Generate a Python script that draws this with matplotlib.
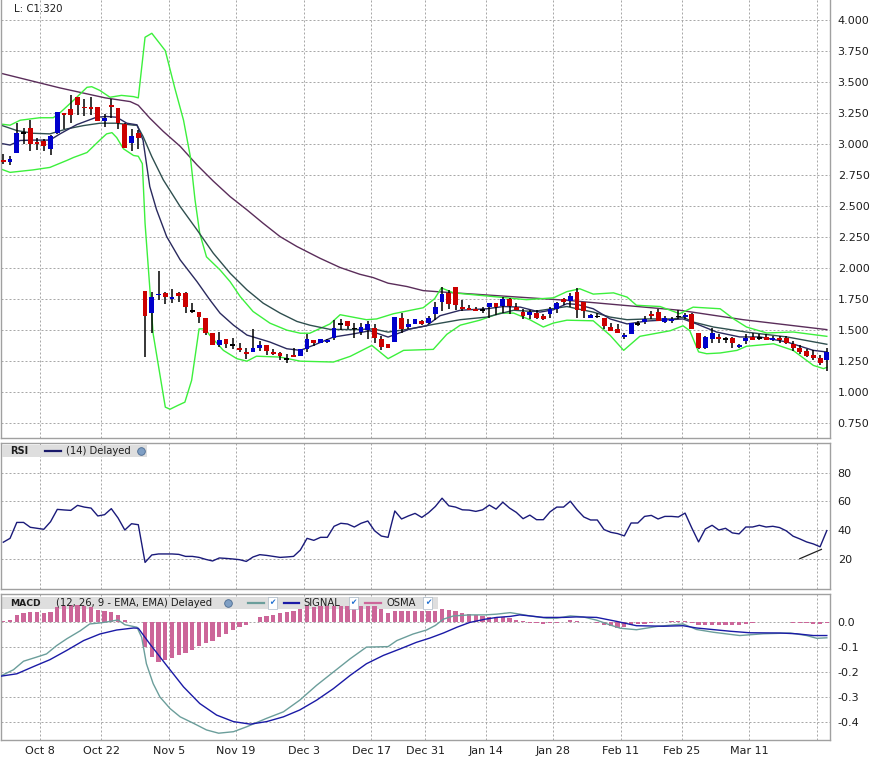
import matplotlib
matplotlib.use("Agg")
import matplotlib.pyplot as plt
from matplotlib.patches import Rectangle
from matplotlib.ticker import FixedLocator, FormatStrFormatter

plt.rcParams['axes.unicode_minus'] = False
plt.rcParams['font.family'] = ['DejaVu Sans']

# ---------------- data ----------------
opens = [2.87, 2.85, 2.93, 3.09, 3.13, 3.01, 3.02, 2.96, 3.09, 3.25,
         3.28, 3.375, 3.30, 3.295, 3.30, 3.18, 3.31, 3.29, 3.16, 3.01,
         3.09, 1.812, 1.637, 1.782, 1.80, 1.753, 1.80, 1.80, 1.652, 1.648,
         1.597, 1.478, 1.384, 1.43, 1.382, 1.357, 1.325, 1.320, 1.355, 1.382,
         1.325, 1.314, 1.27, 1.298, 1.288, 1.352, 1.42, 1.395, 1.406, 1.435,
         1.548, 1.57, 1.513, 1.487, 1.503, 1.516, 1.427, 1.39, 1.403, 1.60,
         1.524, 1.55, 1.575, 1.556, 1.632, 1.723, 1.798, 1.847, 1.685, 1.677,
         1.67, 1.664, 1.683, 1.718, 1.696, 1.75, 1.683, 1.645, 1.618, 1.637,
         1.61, 1.632, 1.67, 1.75, 1.731, 1.804, 1.723, 1.60, 1.61, 1.597,
         1.524, 1.51, 1.446, 1.468, 1.55, 1.564, 1.632, 1.645, 1.562, 1.575,
         1.61, 1.602, 1.632, 1.48, 1.355, 1.428, 1.443, 1.43, 1.433, 1.368,
         1.41, 1.443, 1.438, 1.443, 1.422, 1.433, 1.433, 1.39, 1.357, 1.328,
         1.30, 1.274, 1.26]
highs = [2.92, 2.90, 3.17, 3.13, 3.19, 3.05, 3.04, 3.07, 3.26, 3.25,
         3.39, 3.375, 3.36, 3.375, 3.30, 3.24, 3.36, 3.29, 3.165, 3.12,
         3.11, 1.812, 1.806, 1.978, 1.806, 1.83, 1.806, 1.806, 1.718, 1.648,
         1.597, 1.478, 1.484, 1.43, 1.436, 1.395, 1.355, 1.51, 1.41, 1.382,
         1.345, 1.327, 1.306, 1.36, 1.352, 1.468, 1.42, 1.427, 1.43, 1.583,
         1.59, 1.57, 1.556, 1.556, 1.57, 1.55, 1.454, 1.39, 1.607, 1.637,
         1.59, 1.59, 1.583, 1.616, 1.73, 1.847, 1.825, 1.847, 1.74, 1.70,
         1.69, 1.685, 1.72, 1.718, 1.77, 1.758, 1.72, 1.67, 1.664, 1.66,
         1.63, 1.685, 1.73, 1.758, 1.798, 1.839, 1.723, 1.63, 1.64, 1.597,
         1.56, 1.55, 1.48, 1.556, 1.57, 1.61, 1.65, 1.672, 1.61, 1.605,
         1.664, 1.637, 1.637, 1.48, 1.45, 1.515, 1.465, 1.443, 1.443, 1.385,
         1.465, 1.475, 1.47, 1.47, 1.45, 1.455, 1.45, 1.41, 1.38, 1.35,
         1.34, 1.30, 1.355]
lows = [2.84, 2.83, 2.93, 3.00, 2.94, 2.95, 2.94, 2.91, 3.08, 3.12,
        3.17, 3.23, 3.22, 3.23, 3.18, 3.135, 3.21, 3.12, 2.97, 2.94,
        2.96, 1.28, 1.48, 1.745, 1.71, 1.72, 1.73, 1.637, 1.64, 1.556,
        1.462, 1.384, 1.363, 1.355, 1.347, 1.32, 1.27, 1.32, 1.33, 1.30,
        1.30, 1.26, 1.234, 1.285, 1.288, 1.323, 1.37, 1.395, 1.395, 1.42,
        1.50, 1.51, 1.44, 1.46, 1.43, 1.395, 1.34, 1.36, 1.403, 1.476,
        1.51, 1.55, 1.54, 1.55, 1.583, 1.65, 1.67, 1.664, 1.65, 1.664,
        1.65, 1.637, 1.597, 1.624, 1.637, 1.63, 1.664, 1.59, 1.59, 1.59,
        1.58, 1.60, 1.64, 1.70, 1.69, 1.597, 1.597, 1.60, 1.597, 1.51,
        1.49, 1.475, 1.428, 1.468, 1.53, 1.55, 1.59, 1.57, 1.555, 1.56,
        1.59, 1.59, 1.51, 1.347, 1.347, 1.40, 1.395, 1.395, 1.355, 1.355,
        1.39, 1.42, 1.42, 1.42, 1.415, 1.395, 1.385, 1.33, 1.31, 1.28,
        1.26, 1.216, 1.167]
closes = [2.85, 2.88, 3.09, 3.09, 3.00, 3.00, 2.98, 3.06, 3.255, 3.23,
          3.23, 3.31, 3.285, 3.28, 3.18, 3.21, 3.295, 3.165, 2.97, 3.06,
          3.05, 1.616, 1.766, 1.793, 1.763, 1.77, 1.774, 1.683, 1.652, 1.602,
          1.48, 1.384, 1.42, 1.392, 1.382, 1.341, 1.309, 1.355, 1.382, 1.328,
          1.31, 1.288, 1.27, 1.285, 1.347, 1.427, 1.40, 1.427, 1.42, 1.516,
          1.548, 1.53, 1.513, 1.524, 1.55, 1.44, 1.363, 1.36, 1.607, 1.513,
          1.55, 1.59, 1.548, 1.597, 1.685, 1.793, 1.712, 1.702, 1.672, 1.664,
          1.656, 1.664, 1.72, 1.69, 1.75, 1.696, 1.664, 1.61, 1.642, 1.60,
          1.59, 1.67, 1.718, 1.723, 1.777, 1.659, 1.65, 1.62, 1.61, 1.53,
          1.49, 1.48, 1.46, 1.556, 1.55, 1.59, 1.61, 1.575, 1.594, 1.59,
          1.61, 1.618, 1.51, 1.355, 1.443, 1.476, 1.43, 1.43, 1.395, 1.382,
          1.436, 1.422, 1.438, 1.422, 1.436, 1.42, 1.395, 1.355, 1.32, 1.288,
          1.274, 1.234, 1.32]

# indicator lines: (bar index, value)
ma_long_x = [-0.5, 8.4, 15.1, 18.8, 20.0, 21.7, 23.7, 26.2, 28.7, 31.1, 33.6, 36.1, 38.5, 41.0, 43.5, 46.9, 49.9,
             52.8, 54.8, 57.0, 59.8, 62.2, 65.2, 69.1, 83.5, 100.2, 109.6, 122.0]
ma_long_y = [3.57, 3.45, 3.37, 3.34, 3.31, 3.207, 3.10, 2.98, 2.83, 2.70, 2.575, 2.468, 2.36, 2.253, 2.173, 2.079,
             2.004, 1.95, 1.923, 1.878, 1.851, 1.818, 1.806, 1.792, 1.74, 1.66, 1.584, 1.504]

ma_mid_x = [-0.5, 2.0, 4.4, 6.9, 9.4, 11.9, 14.3, 16.8, 19.3, 19.8, 20.7, 22.0, 23.7, 26.2, 28.7, 31.1, 33.6, 36.1,
            38.5, 41.0, 43.5, 45.4, 48.4, 51.9, 54.8, 57.0, 60.3, 63.7, 67.7, 71.6, 75.6, 78.5, 83.5, 85.0, 87.4,
            89.9, 92.4, 95.3, 99.3, 100.7, 102.2, 105.2, 110.1, 116.1, 122.0]
ma_mid_y = [3.153, 3.107, 3.085, 3.08, 3.12, 3.147, 3.166, 3.166, 3.15, 3.15, 3.06, 2.897, 2.71, 2.495, 2.307, 2.12,
            1.958, 1.824, 1.717, 1.637, 1.57, 1.54, 1.506, 1.504, 1.51, 1.484, 1.51, 1.546, 1.584, 1.605, 1.66,
            1.65, 1.69, 1.672, 1.645, 1.605, 1.584, 1.59, 1.59, 1.605, 1.565, 1.525, 1.484, 1.445, 1.386]

ma_fast_x = [-0.5, 1.0, 2.5, 4.4, 6.9, 8.4, 10.9, 13.8, 15.3, 16.8, 18.3, 19.8, 20.7, 21.7, 22.7, 24.2, 26.2, 28.7,
             30.6, 32.1, 34.1, 36.1, 39.5, 42.0, 44.0, 45.9, 48.9, 51.9, 54.3, 57.0, 60.3, 62.7, 64.7, 67.7, 71.6,
             74.1, 76.6, 79.5, 81.5, 83.5, 85.0, 87.4, 89.9, 92.4, 95.3, 98.8, 100.7, 102.7, 105.7, 109.1, 112.1,
             116.1, 120.0, 122.0]
ma_fast_y = [3.005, 2.99, 3.027, 3.03, 3.03, 3.08, 3.155, 3.214, 3.22, 3.214, 3.166, 3.153, 3.03, 2.656, 2.47,
             2.253, 2.066, 1.89, 1.744, 1.637, 1.54, 1.46, 1.404, 1.35, 1.337, 1.377, 1.444, 1.47, 1.495, 1.444,
             1.51, 1.535, 1.616, 1.66, 1.672, 1.69, 1.685, 1.645, 1.664, 1.713, 1.707, 1.672, 1.59, 1.55, 1.573,
             1.584, 1.59, 1.55, 1.484, 1.445, 1.445, 1.404, 1.337, 1.324]

band_up_x = [-0.5, 1.0, 2.5, 5.4, 7.4, 8.4, 10.4, 12.4, 13.1, 14.3, 15.8, 17.5, 19.3, 20.0, 21.0, 22.0, 24.0, 25.4,
             26.7, 27.7, 28.4, 29.1, 30.1, 32.1, 33.6, 35.1, 37.0, 39.5, 42.0, 44.0, 45.4, 48.4, 49.9, 53.8, 55.3,
             57.8, 62.2, 63.9, 64.9, 66.7, 70.6, 74.6, 77.5, 81.5, 83.5, 85.4, 87.4, 90.4, 92.4, 93.8, 97.3, 100.2,
             102.2, 106.2, 108.2, 110.1, 113.1, 117.0, 122.0]
band_up_y = [3.16, 3.15, 3.19, 3.21, 3.21, 3.25, 3.35, 3.455, 3.46, 3.43, 3.375, 3.39, 3.38, 3.37, 3.858, 3.89,
             3.75, 3.45, 3.19, 2.90, 2.55, 2.28, 2.09, 1.985, 1.89, 1.77, 1.65, 1.556, 1.50, 1.475, 1.475, 1.55,
             1.624, 1.584, 1.59, 1.632, 1.68, 1.753, 1.84, 1.80, 1.78, 1.76, 1.745, 1.76, 1.81, 1.833, 1.79, 1.80,
             1.766, 1.70, 1.69, 1.632, 1.685, 1.672, 1.59, 1.525, 1.477, 1.485, 1.45]

band_lo_x = [-0.5, 1.0, 4.4, 6.9, 9.4, 10.4, 12.4, 14.3, 15.3, 16.1, 16.8, 17.8, 19.3, 20.0, 20.6, 21.0, 22.2, 24.0,
             24.7, 25.9, 26.9, 27.9, 28.4, 29.0, 29.9, 30.6, 32.6, 34.6, 36.1, 37.5, 41.0, 44.0, 48.9, 51.4, 54.6,
             57.0, 59.3, 63.7, 65.7, 67.7, 70.6, 73.6, 75.6, 78.0, 80.0, 81.5, 83.5, 87.4, 89.9, 91.9, 94.3, 96.3,
             98.8, 100.7, 101.7, 103.0, 104.2, 106.2, 108.7, 110.1, 114.1, 117.0, 120.0, 121.5, 122.0]
band_lo_y = [2.80, 2.77, 2.79, 2.81, 2.866, 2.89, 2.93, 3.03, 3.08, 3.09, 3.05, 2.96, 2.906, 2.90, 2.84, 2.36, 1.47,
             0.88, 0.863, 0.895, 0.92, 1.096, 1.283, 1.51, 1.51, 1.458, 1.337, 1.27, 1.25, 1.29, 1.283, 1.25,
             1.243, 1.289, 1.377, 1.27, 1.337, 1.345, 1.466, 1.54, 1.58, 1.637, 1.637, 1.584, 1.525, 1.557, 1.58,
             1.575, 1.458, 1.337, 1.45, 1.47, 1.495, 1.535, 1.495, 1.325, 1.31, 1.316, 1.337, 1.37, 1.39, 1.337,
             1.216, 1.19, 1.20]

rsi = [31.5, 34.2, 45.3, 45.3, 41.9, 41.2, 40.5, 45.8, 54.4, 54.0,
       53.7, 57.2, 56.0, 55.3, 49.8, 50.7, 54.9, 48.4, 40.0, 44.4,
       43.7, 17.4, 22.6, 23.3, 23.3, 23.3, 23.0, 21.6, 21.6, 20.9,
       19.5, 18.4, 20.5, 20.2, 19.8, 19.3, 18.1, 21.2, 22.8, 22.3,
       21.6, 20.9, 21.2, 21.6, 26.0, 34.2, 32.8, 34.9, 34.9, 42.6,
       44.7, 44.2, 42.1, 44.7, 46.3, 39.5, 35.8, 34.9, 53.3, 47.7,
       49.8, 51.6, 48.8, 52.1, 56.4, 62.2, 56.9, 56.0, 54.1, 53.9,
       53.0, 54.1, 57.4, 54.6, 59.4, 55.3, 52.3, 47.9, 50.4, 47.2,
       47.2, 52.7, 56.0, 56.0, 60.1, 54.1, 49.1, 47.0, 47.0, 40.3,
       38.4, 37.5, 35.9, 44.9, 44.9, 49.5, 50.2, 47.7, 49.5, 49.5,
       49.1, 51.8, 41.4, 31.7, 40.7, 43.3, 40.0, 41.2, 38.0, 37.3,
       42.1, 42.1, 43.3, 42.1, 42.6, 41.7, 39.4, 35.7, 33.8, 31.7,
       30.3, 28.3, 39.6]
rsi_trend_x = [118.0, 121.2]
rsi_trend_y = [20.0, 26.5]

osma = [0.004, 0.007, 0.026, 0.036, 0.038, 0.038, 0.036, 0.038, 0.059, 0.063,
        0.066, 0.066, 0.063, 0.059, 0.046, 0.041, 0.038, 0.028, 0.007, -0.003,
        -0.001, -0.099, -0.141, -0.161, -0.154, -0.143, -0.132, -0.125, -0.111, -0.095,
        -0.086, -0.075, -0.062, -0.049, -0.033, -0.022, -0.012, -0.002, 0.017, 0.024,
        0.028, 0.036, 0.038, 0.043, 0.050, 0.063, 0.059, 0.061, 0.061, 0.063,
        0.063, 0.063, 0.063, 0.063, 0.063, 0.061, 0.050, 0.036, 0.041, 0.041,
        0.041, 0.041, 0.041, 0.041, 0.043, 0.049, 0.045, 0.043, 0.034, 0.030,
        0.027, 0.023, 0.019, 0.017, 0.019, 0.013, 0.006, 0.001, -0.005, -0.005,
        -0.009, -0.005, -0.004, -0.002, 0.006, 0.001, -0.001, -0.001, -0.005, -0.013,
        -0.019, -0.025, -0.022, -0.013, -0.009, -0.009, -0.004, -0.003, -0.003, 0.001,
        0.004, 0.001, -0.004, -0.012, -0.012, -0.013, -0.014, -0.014, -0.014, -0.013,
        -0.009, -0.005, -0.003, -0.003, -0.001, -0.001, -0.003, -0.004, -0.004, -0.006,
        -0.009, -0.010, -0.006]

macd_x = [-0.5, 1.5, 3.0, 4.9, 6.4, 7.9, 9.4, 11.4, 12.8, 14.3, 15.8, 17.0, 18.0, 19.8, 20.5, 21.2, 22.2, 23.2,
          24.7, 26.2, 28.2, 30.1, 31.9, 34.1, 36.1, 37.5, 39.0, 41.5, 43.9, 46.4, 48.9, 51.4, 53.8, 57.0, 58.3,
          60.7, 62.7, 64.0, 65.2, 66.7, 69.1, 71.4, 73.1, 75.1, 76.5, 78.0, 80.5, 82.0, 84.0, 85.9, 87.9, 89.9,
          91.4, 93.8, 96.8, 100.7, 102.7, 105.2, 109.1, 112.6, 116.6, 119.0, 120.5, 122.0]
macd_y = [-0.217, -0.191, -0.157, -0.141, -0.128, -0.095, -0.068, -0.036, -0.009, -0.005, 0.001, 0.007, -0.012,
          -0.022, -0.062, -0.167, -0.246, -0.299, -0.345, -0.378, -0.404, -0.430, -0.443, -0.437, -0.417, -0.401,
          -0.384, -0.358, -0.312, -0.253, -0.200, -0.147, -0.101, -0.099, -0.075, -0.049, -0.033, -0.015, 0.010,
          0.023, 0.027, 0.027, 0.030, 0.036, 0.030, 0.023, 0.014, 0.014, 0.023, 0.019, 0.006, -0.013, -0.026,
          -0.032, -0.019, -0.009, -0.031, -0.042, -0.055, -0.048, -0.045, -0.055, -0.066, -0.064]

signal_x = [-0.5, 2.0, 4.5, 6.9, 9.4, 11.9, 14.3, 16.8, 19.3, 20.0, 21.7, 24.2, 26.7, 29.1, 31.6, 34.1, 36.6, 39.0,
            41.5, 43.9, 46.4, 48.9, 51.4, 53.8, 56.3, 58.8, 61.2, 63.2, 65.2, 67.2, 69.1, 71.4, 73.1, 75.1, 76.5,
            78.0, 80.0, 83.0, 84.9, 87.9, 90.9, 93.8, 97.8, 100.7, 102.7, 107.7, 110.6, 115.1, 117.5, 120.0, 122.0]
signal_y = [-0.217, -0.207, -0.178, -0.151, -0.114, -0.075, -0.049, -0.033, -0.025, -0.026, -0.088, -0.174, -0.259,
            -0.325, -0.371, -0.397, -0.407, -0.397, -0.378, -0.351, -0.312, -0.266, -0.213, -0.167, -0.134, -0.108,
            -0.082, -0.065, -0.045, -0.022, -0.003, 0.010, 0.017, 0.021, 0.027, 0.023, 0.017, 0.017, 0.019, 0.017,
            0.001, -0.016, -0.018, -0.016, -0.025, -0.038, -0.044, -0.045, -0.048, -0.055, -0.055]

date_labels = ['Oct 8', 'Oct 22', 'Nov 5', 'Nov 19', 'Dec 3', 'Dec 17', 'Dec 31',
               'Jan 14', 'Jan 28', 'Feb 11', 'Feb 25', 'Mar 11', '']
date_bars = [6, 15, 25, 35, 45, 55, 63, 72, 82, 92, 101, 111, 121]

price_ticks = [0.75, 1.0, 1.25, 1.5, 1.75, 2.0, 2.25, 2.5, 2.75, 3.0, 3.25, 3.5, 3.75, 4.0]
rsi_ticks = [20, 40, 60, 80]
macd_ticks = [-0.4, -0.3, -0.2, -0.1, 0.0]
last_label = 'L: C1.320'

# ---------------- layout ----------------
W, H = 876, 765
fig = plt.figure(figsize=(W / 100, H / 100), dpi=100)


def rect(x0, y0, x1, y1):
    return [x0 / W, 1 - y1 / H, (x1 - x0) / W, (y1 - y0) / H]


ax1 = fig.add_axes(rect(0.6, 0, 830, 438.3))
ax2 = fig.add_axes(rect(0.6, 443.3, 830, 589))
ax3 = fig.add_axes(rect(0.6, 594, 830, 740))

n = len(closes)
xs = list(range(n))
grid_x = [b - 0.5 for b in date_bars]
GRID = '#a8a8a8'
SPINE = '#a0a0a0'
TXT = '#1e1e1e'

for ax in (ax1, ax2, ax3):
    ax.set_xlim(-0.4, 122.47)
    ax.yaxis.tick_right()
    ax.tick_params(axis='y', length=0, pad=5.5, labelsize=8, labelcolor=TXT)
    ax.tick_params(axis='x', length=0, pad=4.5, labelsize=8, labelcolor=TXT)
    ax.xaxis.set_major_locator(FixedLocator(grid_x))
    ax.grid(True, color=GRID, linestyle=(0, (2, 2)), linewidth=0.72)
    ax.set_axisbelow(True)
    for s in ax.spines.values():
        s.set_color(SPINE)
        s.set_linewidth(1.0)
ax1.spines['top'].set_visible(False)
ax1.set_xticklabels([])
ax2.set_xticklabels([])
ax3.set_xticklabels(date_labels)

# ---------------- main price panel ----------------
ax1.set_ylim(0.629, 4.158)
ax1.yaxis.set_major_locator(FixedLocator(price_ticks))
ax1.yaxis.set_major_formatter(FormatStrFormatter('%.3f'))

ax1.plot(ma_long_x, ma_long_y, color='#5a2d5a', lw=1.0, zorder=2)
ax1.plot(band_up_x, band_up_y, color='#3cf03c', lw=1.0, zorder=2)
ax1.plot(band_lo_x, band_lo_y, color='#3cf03c', lw=1.0, zorder=2)
ax1.plot(ma_mid_x, ma_mid_y, color='#2f4f4f', lw=1.0, zorder=2)
ax1.plot(ma_fast_x, ma_fast_y, color='#2a2a5e', lw=1.0, zorder=2)

cols, bots, hts = [], [], []
for o, c in zip(opens, closes):
    if c > o:
        cols.append('#0000cc')
    elif c < o:
        cols.append('#cc0000')
    else:
        cols.append('#000000')
    h = abs(c - o)
    if h < 0.014:
        mid = (o + c) / 2
        bots.append(mid - 0.007)
        hts.append(0.014)
    else:
        bots.append(min(o, c))
        hts.append(h)
ax1.vlines(xs, lows, highs, color='black', lw=1.1, zorder=3)
ax1.bar(xs, hts, bottom=bots, width=0.72, color=cols, linewidth=0, zorder=4)

ax1.text(13 / 829, 1 - 9 / 438.3, last_label, transform=ax1.transAxes,
         fontsize=7.4, color=TXT, va='center', ha='left')

# ---------------- RSI panel ----------------
ax2.set_ylim(-1.15, 100.5)
ax2.yaxis.set_major_locator(FixedLocator(rsi_ticks))
ax2.plot(xs, rsi, color='#1a1a7a', lw=1.0, zorder=3)
ax2.plot(rsi_trend_x, rsi_trend_y, color='#222222', lw=0.9, zorder=3)

ah2 = 589 - 443.3
ax2.add_patch(Rectangle((1.5 / 829, (589 - 457.3) / ah2), 145 / 829, 12.3 / ah2,
                        transform=ax2.transAxes, facecolor='#dedede', edgecolor='none', zorder=5))
yc2 = (589 - 451.2) / ah2
ax2.text(10 / 829, yc2, 'RSI', transform=ax2.transAxes, fontsize=7, fontweight='bold',
         color=TXT, va='center', ha='left', zorder=6)
ax2.plot([44 / 829, 60 / 829], [yc2, yc2], transform=ax2.transAxes, color='#1a1a6a', lw=1.6, zorder=6)
ax2.text(65.5 / 829, yc2, '(14) Delayed', transform=ax2.transAxes, fontsize=7.2,
         color=TXT, va='center', ha='left', zorder=6)
ax2.plot([140 / 829], [yc2], transform=ax2.transAxes, marker='o', ms=5.5,
         color='#7f9fc4', mec='#4a6a90', mew=0.6, zorder=6)

# ---------------- MACD panel ----------------
ax3.set_ylim(-0.470, 0.110)
ax3.yaxis.set_major_locator(FixedLocator(macd_ticks))
ax3.yaxis.set_major_formatter(FormatStrFormatter('%.1f'))

ah3 = 740 - 594
ax3.add_patch(Rectangle((1.5 / 829, (740 - 609.3) / ah3), 436 / 829, 12.3 / ah3,
                        transform=ax3.transAxes, facecolor='#dedede', edgecolor='none', zorder=1))
ax3.bar(xs, osma, width=0.64, color='#cc6699', linewidth=0, zorder=2)
ax3.plot(macd_x, macd_y, color='#6b9e9b', lw=1.0, zorder=3)
ax3.plot(signal_x, signal_y, color='#1a1aa6', lw=1.0, zorder=3)

yc3 = (740 - 603) / ah3
ax3.text(10 / 829, yc3, 'MACD', transform=ax3.transAxes, fontsize=6.6, fontweight='bold',
         color=TXT, va='center', ha='left', zorder=6)
ax3.text(55 / 829, yc3, '(12, 26, 9 - EMA, EMA) Delayed', transform=ax3.transAxes, fontsize=7.2,
         color=TXT, va='center', ha='left', zorder=6)
ax3.plot([227 / 829], [yc3], transform=ax3.transAxes, marker='o', ms=5.5,
         color='#7f9fc4', mec='#4a6a90', mew=0.6, zorder=6)
for x0, x1, col in [(247, 263, '#6b9e9b'), (283, 298, '#1a1aa6'), (364, 380, '#cc6699')]:
    ax3.plot([x0 / 829, x1 / 829], [yc3, yc3], transform=ax3.transAxes, color=col, lw=1.6, zorder=6)
ax3.text(303 / 829, yc3, 'SIGNAL', transform=ax3.transAxes, fontsize=7.2,
         color=TXT, va='center', ha='left', zorder=6)
ax3.text(386 / 829, yc3, 'OSMA', transform=ax3.transAxes, fontsize=7.2,
         color=TXT, va='center', ha='left', zorder=6)
for xc in (272, 353, 427):
    ax3.text(xc / 829, yc3, '\u2714', transform=ax3.transAxes, fontsize=5.5, color='#1f6fd0',
             va='center', ha='center', zorder=7,
             bbox=dict(boxstyle='square,pad=0.15', fc='white', ec='#9ab', lw=0.4))

fig.savefig('out.png', dpi=100)
